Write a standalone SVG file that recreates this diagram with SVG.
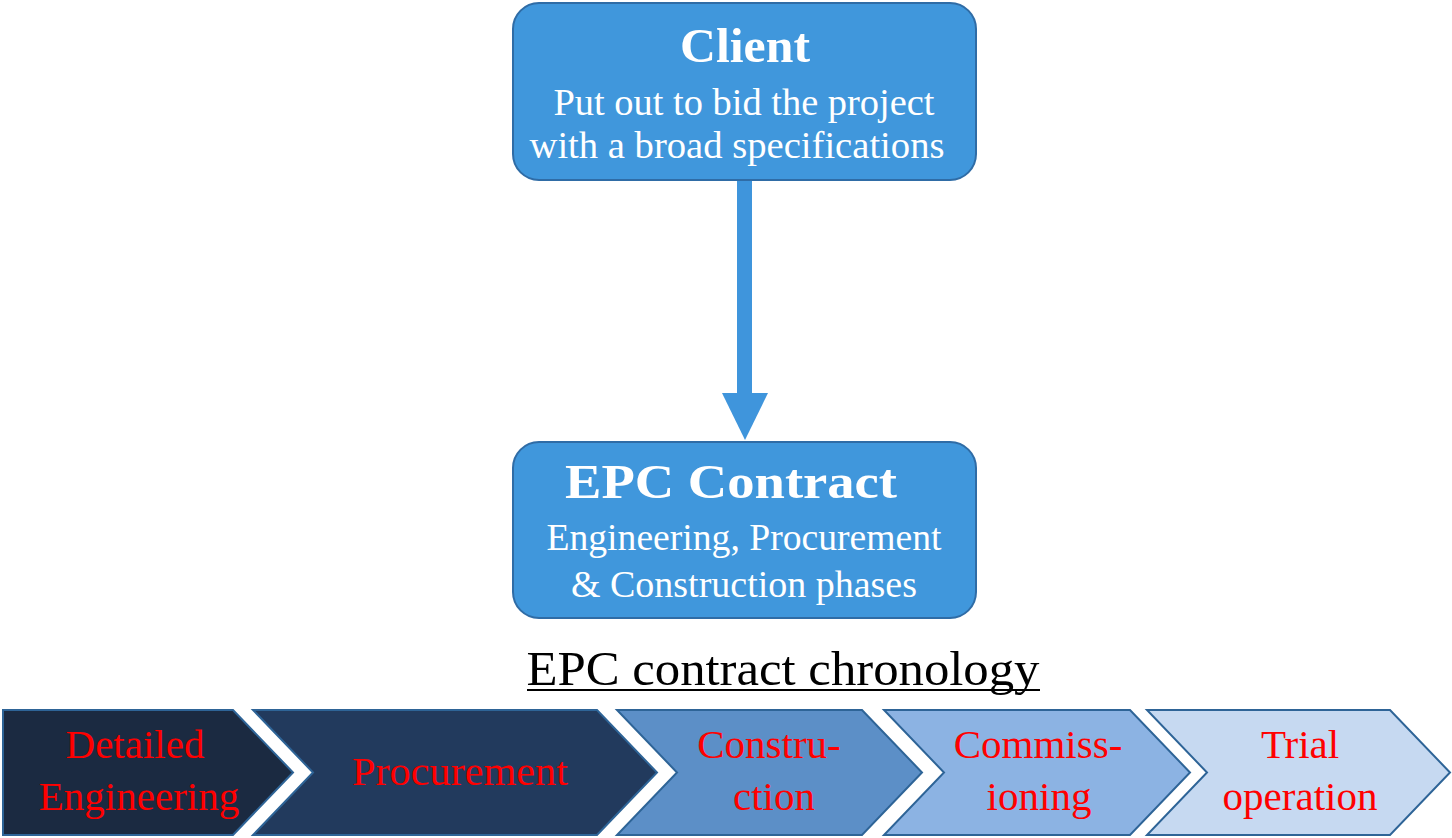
<svg xmlns="http://www.w3.org/2000/svg" width="1452" height="838" viewBox="0 0 1452 838">
  <style>
    .box { fill: #4097DC; stroke: #2F6CA6; stroke-width: 2; }
    .title { font-family: "Liberation Serif", "Times New Roman", serif; font-weight: bold; fill: #ffffff; text-anchor: middle; }
    .sub { font-family: "Liberation Serif", "Times New Roman", serif; fill: #ffffff; text-anchor: middle; font-size: 37px; }
    .phase { font-family: "Liberation Serif", "Times New Roman", serif; fill: #FF0000; text-anchor: middle; font-size: 41px; }
    .chev { stroke: #2E6497; stroke-width: 2; }
    .heading { font-family: "Liberation Serif", "Times New Roman", serif; fill: #000000; text-anchor: middle; font-size: 48px; }
  </style>

  <!-- connector: Client to EPC Contract -->
  <g id="connectors">
    <rect x="737" y="180" width="15" height="214" fill="#3F95DC"/>
    <polygon points="722,393 768,393 745,440" fill="#3F95DC"/>
  </g>

  <g id="client">
    <rect class="box" x="513" y="3" width="463" height="177" rx="26" ry="26"/>
    <text class="title" x="745" y="62" font-size="48" textLength="130" lengthAdjust="spacingAndGlyphs">Client</text>
    <text class="sub" x="744" y="115" textLength="381" lengthAdjust="spacingAndGlyphs">Put out to bid the project</text>
    <text class="sub" x="737" y="158" textLength="415" lengthAdjust="spacingAndGlyphs">with a broad specifications</text>
  </g>

  <g id="epc-contract">
    <rect class="box" x="513" y="442" width="463" height="176" rx="26" ry="26"/>
    <text class="title" x="731" y="498" font-size="49" textLength="332" lengthAdjust="spacingAndGlyphs">EPC Contract</text>
    <text class="sub" x="744" y="550" textLength="395" lengthAdjust="spacingAndGlyphs">Engineering, Procurement</text>
    <text class="sub" x="744" y="597" textLength="346" lengthAdjust="spacingAndGlyphs">&amp; Construction phases</text>
  </g>

  <g id="chronology-heading">
    <text class="heading" x="783" y="685" textLength="513" lengthAdjust="spacingAndGlyphs">EPC contract chronology</text>
    <line x1="527" y1="690" x2="1040" y2="690" stroke="#000000" stroke-width="2"/>
  </g>

  <g id="phase-detailed-engineering">
    <path class="chev" fill="#1B2A41" d="M3,710 H233 L293,772.5 L233,835 H3 Z"/>
    <text class="phase" x="135" y="758">Detailed</text>
    <text class="phase" x="139" y="810">Engineering</text>
  </g>

  <g id="phase-procurement">
    <path class="chev" fill="#223A5D" d="M253,710 H597 L657,772.5 L597,835 H253 L313,772.5 Z"/>
    <text class="phase" x="460" y="785" textLength="216" lengthAdjust="spacingAndGlyphs">Procurement</text>
  </g>

  <g id="phase-construction">
    <path class="chev" fill="#5C8FC7" d="M617,710 H862 L922,772.5 L862,835 H617 L677,772.5 Z"/>
    <text class="phase" x="769" y="758">Constru-</text>
    <text class="phase" x="774" y="810">ction</text>
  </g>

  <g id="phase-commissioning">
    <path class="chev" fill="#8CB3E3" d="M884,710 H1130 L1190,772.5 L1130,835 H884 L944,772.5 Z"/>
    <text class="phase" x="1038" y="758">Commiss-</text>
    <text class="phase" x="1039" y="810">ioning</text>
  </g>

  <g id="phase-trial-operation">
    <path class="chev" fill="#C6D9F1" d="M1147,710 H1390 L1450,772.5 L1390,835 H1147 L1207,772.5 Z"/>
    <text class="phase" x="1300" y="758">Trial</text>
    <text class="phase" x="1300" y="810">operation</text>
  </g>
</svg>
